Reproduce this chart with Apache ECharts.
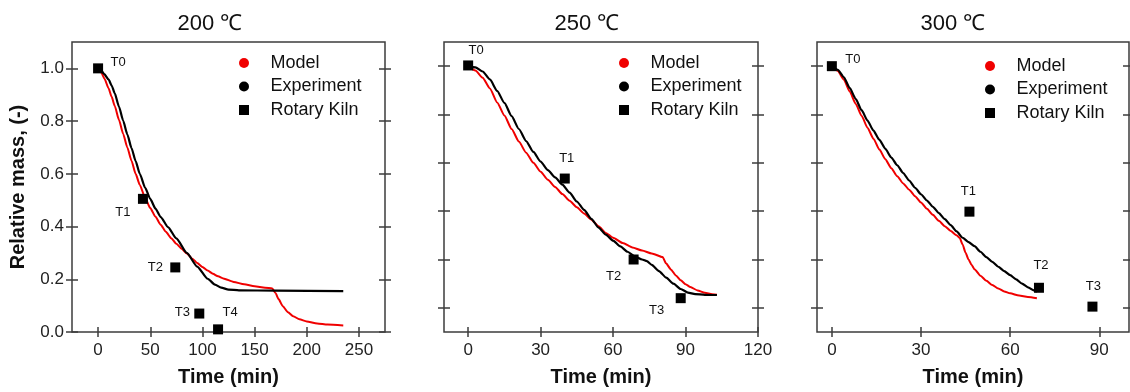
<!DOCTYPE html>
<html><head><meta charset="utf-8">
<script src="https://cdn.jsdelivr.net/npm/echarts@6/dist/echarts.min.js"></script>
<style>html,body{margin:0;padding:0;background:#fff}#c{width:1130px;height:392px}</style>
</head><body><div id="c"></div>
<script>
// ---------------- data ----------------
const panelTitles = ['200 ℃', '250 ℃', '300 ℃'];
const seriesNames = ['Model', 'Experiment', 'Rotary Kiln'];
const xAxisName = 'Time (min)';
const yAxisName = 'Relative mass, (-)';

const xRange200 = [-25, 275];
const xRange250 = [-10, 120];
const xRange300 = [-5, 100];
const yRange200 = [0, 1.1];
const yRange250 = [-0.1, 1.1];
const yRange300 = [-0.1, 1.1];

const xTicks200 = [0, 50, 100, 150, 200, 250];
const xTicks250 = [0, 30, 60, 90, 120];
const xTicks300 = [0, 30, 60, 90];
const yTicks = [0, 0.2, 0.4, 0.6, 0.8, 1.0];

const model200 = [[0,1.0],[3,0.985],[6,0.962],[10,0.925],[13,0.892],[16,0.857],[20,0.805],[24,0.752],[28,0.70],[32,0.65],[36,0.60],[40,0.558],[45,0.51],[50,0.47],[55,0.437],[60,0.407],[65,0.38],[70,0.356],[75,0.335],[80,0.316],[85,0.298],[90,0.279],[95,0.262],[100,0.247],[105,0.233],[110,0.221],[115,0.211],[120,0.203],[130,0.19],[140,0.181],[150,0.174],[160,0.168],[167,0.165],[170,0.148],[173,0.125],[177,0.098],[182,0.075],[187,0.06],[193,0.048],[200,0.04],[210,0.032],[220,0.028],[235,0.025]];
const exp200 = [[0,1.0],[3,0.992],[6,0.978],[10,0.958],[13,0.935],[16,0.905],[20,0.855],[24,0.802],[28,0.75],[32,0.698],[36,0.648],[40,0.6],[45,0.548],[50,0.505],[55,0.468],[60,0.436],[67,0.398],[75,0.355],[85,0.3],[95,0.248],[105,0.202],[112,0.18],[118,0.168],[125,0.161],[135,0.158],[170,0.157],[235,0.155]];
const kilnTime200 = [0, 43, 74, 97, 115];
const kilnMass200 = [1.0, 0.505, 0.245, 0.07, 0.01];
const kilnLabel200 = ['T0', 'T1', 'T2', 'T3', 'T4'];

const model250 = [[0,1.0],[3,0.982],[6,0.952],[9,0.908],[12,0.85],[15,0.796],[18,0.74],[21,0.688],[24,0.642],[27,0.6],[30,0.563],[33,0.53],[36,0.5],[39,0.471],[42,0.443],[45,0.416],[48,0.39],[51,0.365],[54,0.338],[57,0.31],[60,0.29],[64,0.268],[68,0.25],[72,0.237],[76,0.225],[80.5,0.21],[82,0.183],[84,0.158],[86,0.134],[88,0.114],[90,0.098],[92,0.086],[95,0.072],[98,0.062],[101,0.056],[103,0.054]];
const exp250 = [[0,1.0],[3,0.995],[6,0.978],[9,0.945],[12,0.898],[15,0.848],[18,0.793],[21,0.74],[24,0.69],[27,0.645],[30,0.605],[33,0.57],[36,0.54],[39,0.51],[42,0.477],[45,0.44],[48,0.405],[51,0.368],[54,0.332],[57,0.303],[60,0.278],[63,0.254],[66,0.232],[69,0.213],[72,0.2],[74,0.193],[76,0.178],[79,0.152],[82,0.125],[85,0.1],[88,0.078],[91,0.063],[94,0.057],[98,0.054],[103,0.053]];
const kilnTime250 = [0, 40, 68.5, 88];
const kilnMass250 = [1.003, 0.535, 0.2, 0.04];
const kilnLabel250 = ['T0', 'T1', 'T2', 'T3'];

const model300 = [[0,1.0],[2,0.98],[4,0.945],[6,0.895],[8,0.845],[10,0.795],[12,0.745],[14,0.7],[16,0.655],[18,0.615],[20,0.578],[22,0.545],[24,0.515],[26,0.489],[28,0.462],[30,0.436],[32,0.41],[34,0.385],[36,0.36],[38,0.338],[40,0.318],[42,0.3],[43,0.29],[44,0.262],[45,0.228],[46,0.2],[47,0.178],[48,0.16],[50,0.133],[52,0.112],[54,0.094],[56,0.08],[58,0.068],[60,0.06],[63,0.051],[66,0.045],[69,0.04]];
const exp300 = [[0,1.0],[2,0.985],[4,0.955],[6,0.91],[8,0.865],[10,0.818],[12,0.775],[14,0.733],[16,0.695],[18,0.658],[20,0.622],[22,0.59],[24,0.558],[26,0.527],[28,0.497],[30,0.47],[32,0.444],[34,0.418],[36,0.392],[38,0.367],[40,0.342],[42,0.316],[44,0.29],[46,0.272],[48,0.255],[50,0.232],[52,0.21],[54,0.19],[56,0.17],[58,0.152],[60,0.135],[62,0.118],[64,0.1],[66,0.085],[68,0.072],[69,0.066]];
const kilnTime300 = [0, 46.3, 69.7, 87.7];
const kilnMass300 = [1.0, 0.398, 0.083, 0.005];
const kilnLabel300 = ['T0', 'T1', 'T2', 'T3'];

// ---------------- layout / style ----------------
const FONT = '"Liberation Sans", Arial, sans-serif';
const RED = '#f00000', BLACK = '#000000', FRAME = '#3c3c3c';
const grids = [
  { left: 72, top: 42, width: 313, height: 290 },
  { left: 444, top: 42, width: 314, height: 290 },
  { left: 817, top: 42, width: 312, height: 290 }
];
const titleCenters = [205, 582, 948];
const legendPos = [{ left: 239, top: 54 }, { left: 619, top: 54 }, { left: 985, top: 57 }];
const labelOffsets = [
  [[20, -6], [-20, 14], [-20, 0], [-17, -1], [12, -17]],
  [[8, -15], [2, -20], [-20, 17], [-24, 12]],
  [[21, -7], [-1, -20], [2, -22], [1, -20]]
];

const panels = [
  { xr: xRange200, yr: yRange200, xt: xTicks200, model: model200, exp: exp200, kt: kilnTime200, km: kilnMass200, kl: kilnLabel200 },
  { xr: xRange250, yr: yRange250, xt: xTicks250, model: model250, exp: exp250, kt: kilnTime250, km: kilnMass250, kl: kilnLabel250 },
  { xr: xRange300, yr: yRange300, xt: xTicks300, model: model300, exp: exp300, kt: kilnTime300, km: kilnMass300, kl: kilnLabel300 }
];

const tickLine = { color: FRAME, width: 1.5 };
const noLine = { show: false, onZero: false };
const xAxes = [], yAxes = [], series = [], titles = [], legends = [];

panels.forEach((p, gi) => {
  const xi = xAxes.length, yi = yAxes.length;
  const baseX = { type: 'value', gridIndex: gi, min: p.xr[0], max: p.xr[1], position: 'bottom',
    axisLine: noLine, splitLine: { show: false } };
  xAxes.push(Object.assign({}, baseX, {
    axisTick: { show: true, inside: false, length: 5, lineStyle: tickLine, customValues: p.xt },
    axisLabel: { show: true, customValues: p.xt, margin: 10, fontSize: 17, color: '#222', fontFamily: FONT },
    name: xAxisName, nameLocation: 'middle', nameGap: 35,
    nameTextStyle: { fontSize: 20, fontWeight: 'bold', color: '#111', fontFamily: FONT }
  }));
  xAxes.push(Object.assign({}, baseX, {
    axisTick: { show: true, inside: true, length: 5, lineStyle: tickLine, customValues: p.xt },
    axisLabel: { show: false }
  }));
  const baseY = { type: 'value', gridIndex: gi, min: p.yr[0], max: p.yr[1],
    axisLine: noLine, splitLine: { show: false } };
  ['left', 'right'].forEach(pos => {
    [false, true].forEach(inside => {
      const ax = Object.assign({}, baseY, { position: pos,
        axisTick: { show: true, inside: inside, length: 6, lineStyle: tickLine, customValues: yTicks },
        axisLabel: { show: false } });
      if (gi === 0 && pos === 'left' && !inside) {
        ax.axisLabel = { show: true, customValues: yTicks, margin: 8, fontSize: 17, color: '#222', fontFamily: FONT,
          formatter: v => v.toFixed(1) };
        ax.name = yAxisName; ax.nameLocation = 'middle'; ax.nameGap = 44;
        ax.nameTextStyle = { fontSize: 20, fontWeight: 'bold', color: '#111', fontFamily: FONT };
      }
      yAxes.push(ax);
    });
  });

  series.push({ name: seriesNames[0], type: 'line', xAxisIndex: xi, yAxisIndex: yi, data: p.model,
    showSymbol: false, symbol: 'none', smooth: 0.2, smoothMonotone: 'x', color: RED,
    lineStyle: { color: RED, width: 2 }, itemStyle: { color: RED }, z: 2, silent: true });
  series.push({ name: seriesNames[1], type: 'line', xAxisIndex: xi, yAxisIndex: yi, data: p.exp,
    showSymbol: false, symbol: 'none', smooth: 0.2, smoothMonotone: 'x', color: BLACK,
    lineStyle: { color: BLACK, width: 2.2 }, itemStyle: { color: BLACK }, z: 3, silent: true });
  series.push({ name: seriesNames[2], type: 'scatter', xAxisIndex: xi, yAxisIndex: yi,
    symbol: 'rect', symbolSize: 10, itemStyle: { color: BLACK, opacity: 1 }, z: 5, silent: true,
    data: p.kt.map((t, i) => ({ value: [t, p.km[i]], name: p.kl[i],
      label: { offset: labelOffsets[gi][i] } })),
    label: { show: true, position: 'inside', formatter: q => q.name, color: '#111', fontSize: 13,
      fontFamily: FONT, align: 'center', verticalAlign: 'middle' } });

  titles.push({ text: panelTitles[gi], left: titleCenters[gi], top: 8, textAlign: 'center',
    textStyle: { fontSize: 22, fontWeight: 'normal', color: '#111', fontFamily: FONT } });

  legends.push({ orient: 'vertical', left: legendPos[gi].left, top: legendPos[gi].top,
    itemWidth: 43, itemHeight: 10, itemGap: 5.5, symbolKeepAspect: true, selectedMode: false,
    padding: 0, textStyle: { fontSize: 18, color: '#111', fontFamily: FONT },
    data: [
      { name: seriesNames[0], icon: 'circle', itemStyle: { color: RED, borderWidth: 0 } },
      { name: seriesNames[1], icon: 'circle', itemStyle: { color: BLACK, borderWidth: 0 } },
      { name: seriesNames[2], icon: 'path://M0 0H10V10H0Z', itemStyle: { color: BLACK, borderWidth: 0, opacity: 1 } }
    ] });
});

const chart = echarts.init(document.getElementById('c'), null, { renderer: 'canvas' });
chart.setOption({
  animation: false,
  backgroundColor: '#fff',
  title: titles,
  legend: legends,
  grid: grids.map(g => Object.assign({ show: true, borderColor: FRAME, borderWidth: 1.5, backgroundColor: 'transparent', containLabel: false }, g)),
  xAxis: xAxes,
  yAxis: yAxes,
  series: series
});
</script>
</body></html>
